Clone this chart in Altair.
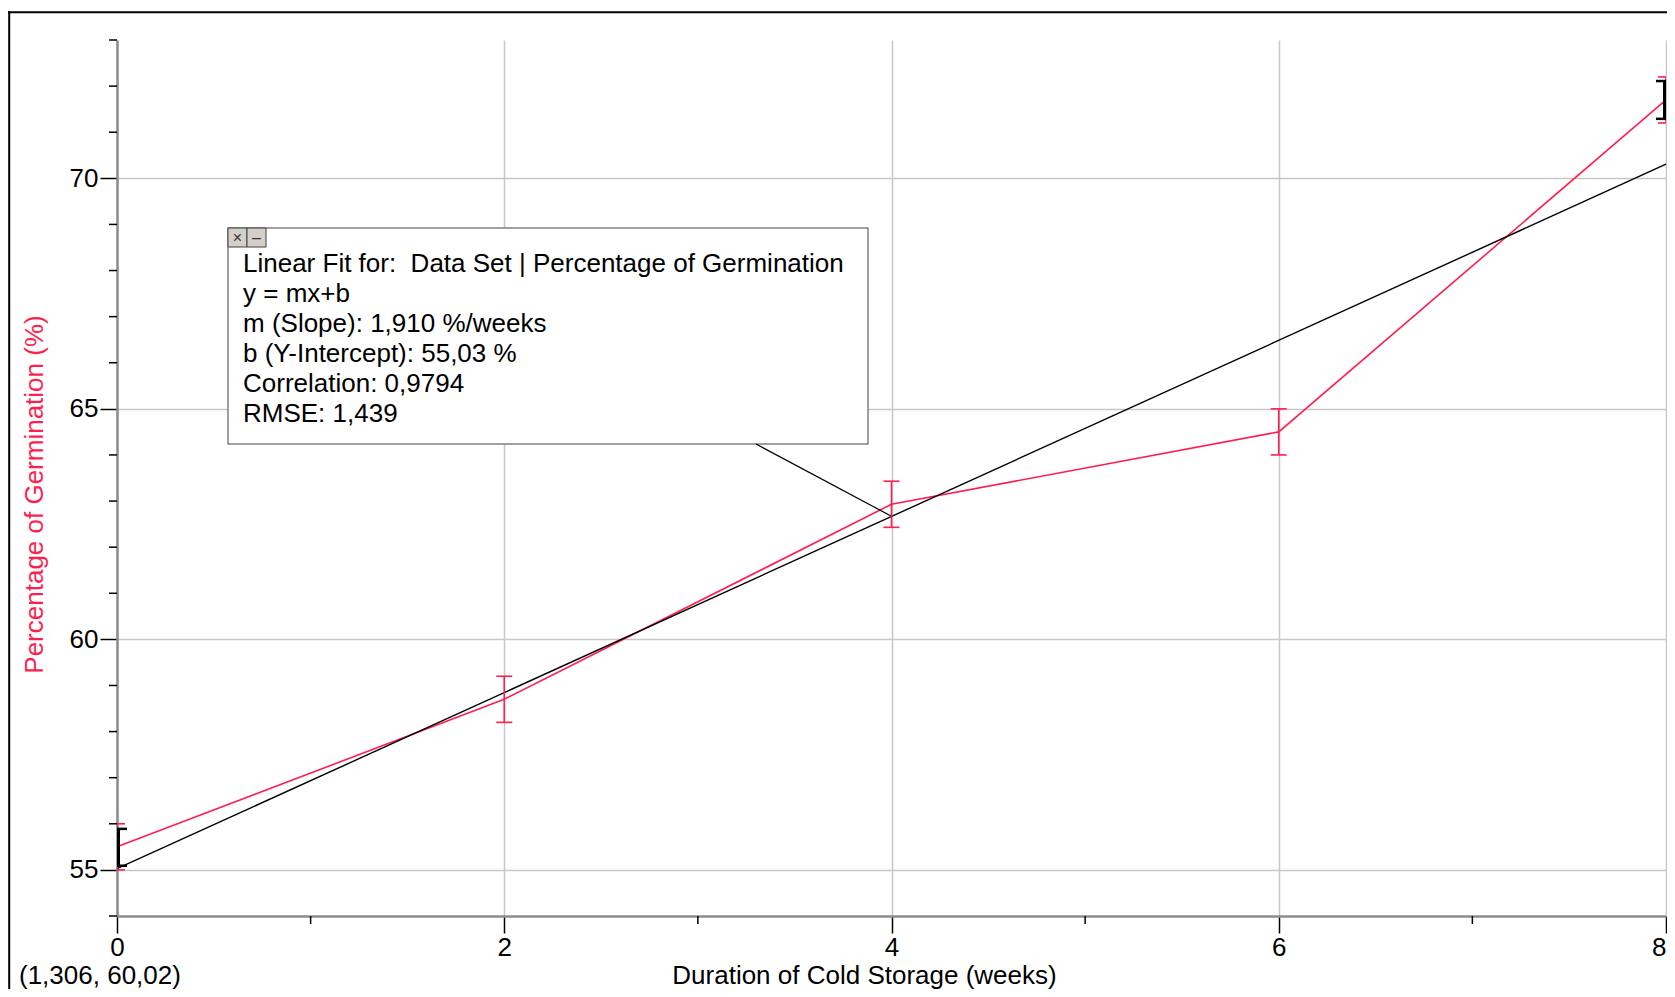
import altair as alt
import pandas as pd

# ---------------- data ----------------
weeks = [0, 2, 4, 6, 8]
germination = [55.5, 58.7, 62.93, 64.5, 71.7]
germination_err = [0.5, 0.5, 0.5, 0.5, 0.5]

x_domain = [0, 8]
y_domain = [54, 73]
x_major_ticks = [0, 2, 4, 6, 8]
x_minor_ticks = [1, 3, 5, 7]
y_major_ticks = [55, 60, 65, 70]
y_minor_ticks = [54, 56, 57, 58, 59, 61, 62, 63, 64, 66, 67, 68, 69, 71, 72, 73]

bracket_weeks = [0, 8]
bracket_low = [55.09, 71.29]
bracket_high = [55.89, 72.11]
bracket_side = ["left", "right"]

fit_slope = 1.910
fit_intercept = 55.03
fit_text = [
    "Linear Fit for:\u00a0 Data Set | Percentage of Germination",
    "y = mx+b",
    "m (Slope): 1,910 %/weeks",
    "b (Y-Intercept): 55,03 %",
    "Correlation: 0,9794",
    "RMSE: 1,439",
]
pointer_week = 4

cursor_readout = "(1,306, 60,02)"
x_title = "Duration of Cold Storage (weeks)"
y_title = "Percentage of Germination (%)"

RED = "#ff1f4f"
FONT = "Liberation Sans"

# ---------------- tables ----------------
df = pd.DataFrame({"x": weeks, "y": germination, "err": germination_err})
df["lo"] = df["y"] - df["err"]
df["hi"] = df["y"] + df["err"]
brk = pd.DataFrame({"x": bracket_weeks, "lo": bracket_low, "hi": bracket_high, "side": bracket_side})
one = pd.DataFrame({"k": [0]})
ptr = pd.DataFrame({"x": [pointer_week], "y": [fit_intercept + fit_slope * pointer_week]})
xminor = pd.DataFrame({"x": x_minor_ticks})
yminor = pd.DataFrame({"y": y_minor_ticks})

xs = alt.Scale(domain=x_domain, nice=False, zero=False)
ys = alt.Scale(domain=y_domain, nice=False, zero=False)

x_axis = alt.Axis(
    values=x_major_ticks, title=x_title, format="d",
    grid=True, gridColor="#c8c8c8", gridWidth=1.5,
    domainColor="#8c8c8c", domainWidth=2.5,
    tickColor="black", tickWidth=1.5, tickSize=17,
    labelFont=FONT, labelFontSize=26, labelColor="black",
    labelPadding=22, labelBaseline="alphabetic", labelFlush=False, labelOverlap=False,
    labelAlign=alt.ExprRef(expr="datum.value == 8 ? 'right' : 'center'"),
    titleFont=FONT, titleFontSize=26, titleFontWeight="normal", titleColor="black",
    titleX=747, titleY=67, titleAlign="center", titleBaseline="alphabetic",
)
y_axis = alt.Axis(
    values=y_major_ticks, title=y_title, format="d",
    grid=True, gridColor="#c8c8c8", gridWidth=1.5,
    domainColor="#8c8c8c", domainWidth=2.5,
    tickColor="black", tickWidth=1.5, tickSize=17,
    labelFont=FONT, labelFontSize=26, labelColor="black",
    labelPadding=2, labelBaseline="middle", labelFlush=False, labelOverlap=False,
    titleFont=FONT, titleFontSize=26, titleFontWeight="normal", titleColor=RED,
    titleAngle=270, titleX=-75, titleY=454, titleAlign="center", titleBaseline="alphabetic",
)


def X(f="x"):
    return alt.X(f"{f}:Q", scale=xs)


def Y(f="y"):
    return alt.Y(f"{f}:Q", scale=ys)


# red data line carries the axes
data_line = alt.Chart(df).mark_line(color=RED, strokeWidth=1.6).encode(
    x=alt.X("x:Q", scale=xs, axis=x_axis),
    y=alt.Y("y:Q", scale=ys, axis=y_axis),
)

# minor ticks
x_minor = alt.Chart(xminor).mark_rule(color="black", strokeWidth=1.5).encode(
    x=X("x"), y=alt.value(876), y2=alt.value(884)
)
y_minor = alt.Chart(yminor).mark_rule(color="black", strokeWidth=1.5).encode(
    y=Y("y"), x=alt.value(-8), x2=alt.value(0)
)

# window frame (top and left edges)
frame_top = alt.Chart(one).mark_rule(color="black", strokeWidth=2).encode(
    x=alt.value(-109), x2=alt.value(1700), y=alt.value(-27.7)
)
frame_left = alt.Chart(one).mark_rule(color="black", strokeWidth=2).encode(
    x=alt.value(-107.8), y=alt.value(-28.7), y2=alt.value(1000)
)

# fit line (through the library's regression)
fit = alt.Chart(df).transform_regression(
    "x", "y", method="linear", extent=x_domain
).mark_line(color="black", strokeWidth=1.4).encode(x=X(), y=Y())

err_rule = alt.Chart(df).mark_rule(color=RED, strokeWidth=1.6, clip=True).encode(
    x=X(), y=Y("lo"), y2="hi:Q"
)
cap_lo = alt.Chart(df).mark_rule(color=RED, strokeWidth=1.6, clip=True, xOffset=-8, x2Offset=8).encode(
    x=X(), x2="x:Q", y=Y("lo")
)
cap_hi = alt.Chart(df).mark_rule(color=RED, strokeWidth=1.6, clip=True, xOffset=-8, x2Offset=8).encode(
    x=X(), x2="x:Q", y=Y("hi")
)


# region brackets [ and ]
def bracket(side, sign):
    base = alt.Chart(brk).transform_filter(alt.datum.side == side)
    v = base.mark_rule(color="black", strokeWidth=3, xOffset=1.5 * sign).encode(
        x=X(), y=Y("lo"), y2="hi:Q"
    )
    s1 = base.mark_rule(color="black", strokeWidth=2.5, x2Offset=10 * sign).encode(
        x=X(), x2="x:Q", y=Y("lo")
    )
    s2 = base.mark_rule(color="black", strokeWidth=2.5, x2Offset=10 * sign).encode(
        x=X(), x2="x:Q", y=Y("hi")
    )
    return [v, s1, s2]


# annotation box
box = alt.Chart(one).mark_rect(fill="white", stroke="#808080", strokeWidth=1.5).encode(
    x=alt.value(111), x2=alt.value(751), y=alt.value(188), y2=alt.value(404)
)
pointer = alt.Chart(ptr).mark_rule(color="black", strokeWidth=1.2).encode(
    x=X(), y=Y(), x2=alt.value(639), y2=alt.value(404)
)
box_text = alt.Chart(one).mark_text(
    align="left", baseline="alphabetic", font=FONT, fontSize=26, color="black",
    lineBreak="\n", lineHeight=30,
).encode(x=alt.value(126), y=alt.value(231.7), text=alt.value("\n".join(fit_text)))

btn1 = alt.Chart(one).mark_rect(fill="#d4d0c8", stroke="#404040", strokeWidth=1).encode(
    x=alt.value(111), x2=alt.value(130), y=alt.value(188), y2=alt.value(207)
)
btn2 = alt.Chart(one).mark_rect(fill="#d4d0c8", stroke="#404040", strokeWidth=1).encode(
    x=alt.value(130), x2=alt.value(149), y=alt.value(188), y2=alt.value(207)
)
btn1_t = alt.Chart(one).mark_text(font=FONT, fontSize=16, color="#333333", baseline="middle").encode(
    x=alt.value(120.5), y=alt.value(197.5), text=alt.value("\u00d7")
)
btn2_t = alt.Chart(one).mark_text(font=FONT, fontSize=16, color="#333333", baseline="middle").encode(
    x=alt.value(139.5), y=alt.value(197.5), text=alt.value("\u2013")
)

cursor = alt.Chart(one).mark_text(
    align="left", baseline="alphabetic", font=FONT, fontSize=26, color="black"
).encode(x=alt.value(-98), y=alt.value(944), text=alt.value(cursor_readout))

chart = alt.layer(
    data_line, x_minor, y_minor, frame_top, frame_left, box, btn1, btn2, btn1_t, btn2_t,
    pointer, fit, err_rule, cap_lo, cap_hi, *bracket("left", 1), *bracket("right", -1),
    box_text, cursor,
).properties(
    width=1549, height=876,
    padding={"left": 109, "top": 32, "right": 1, "bottom": 73},
    autosize="none", background="white",
).configure_view(stroke=None)

chart.save("out.html", embed_options={"renderer": "svg", "actions": False})
